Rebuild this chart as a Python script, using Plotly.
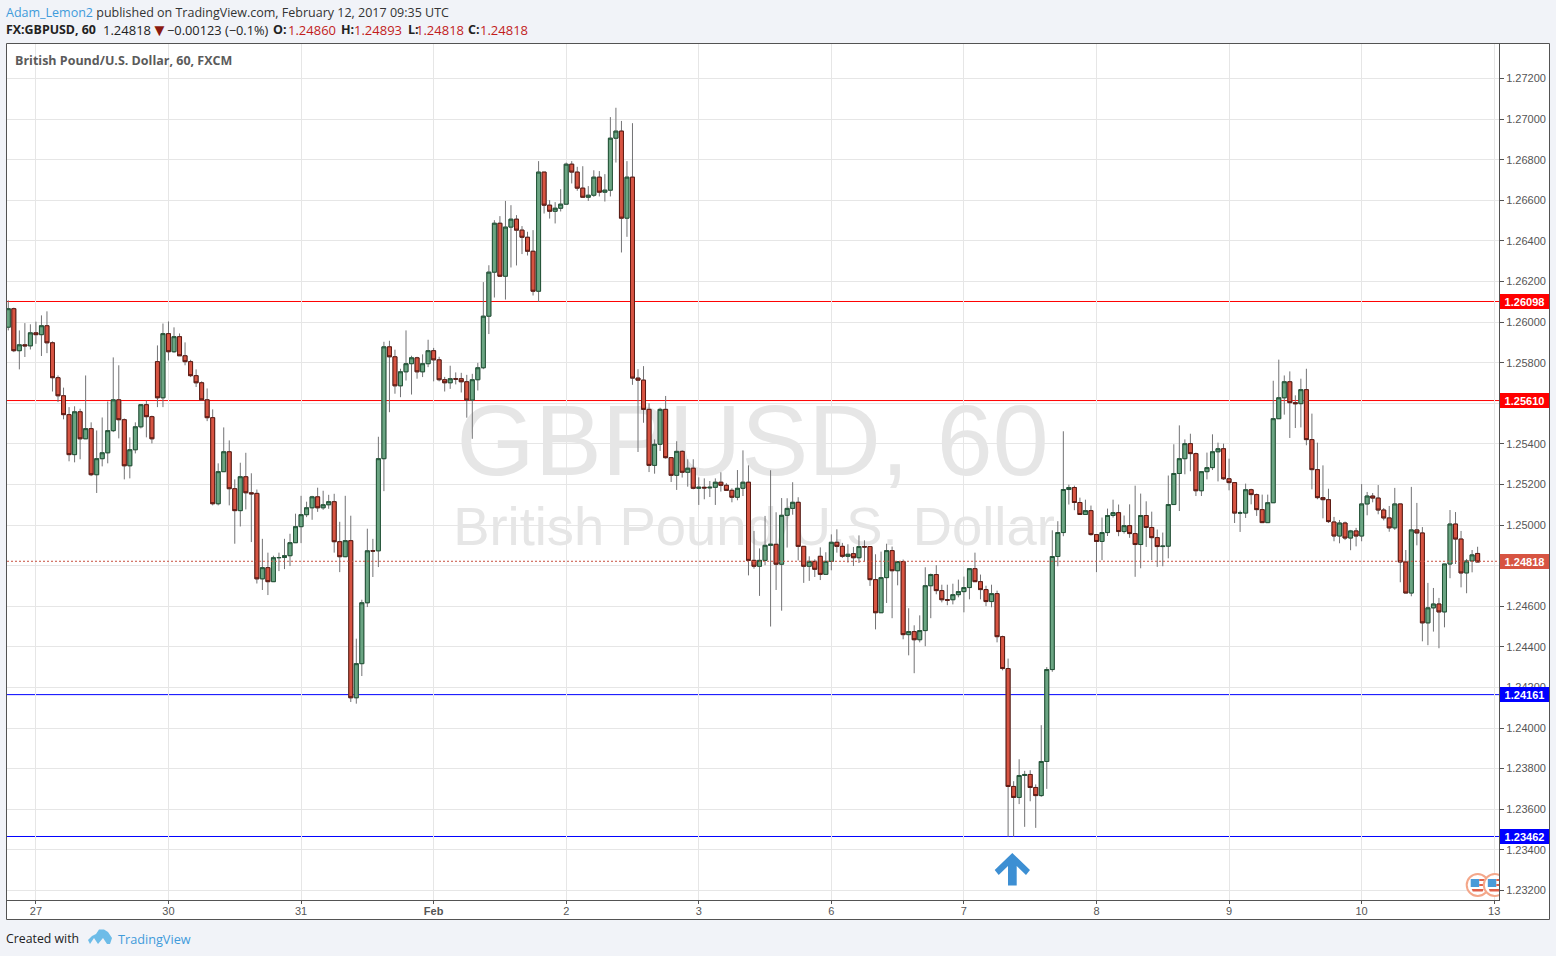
import plotly.graph_objects as go

# hourly FX:GBPUSD candles
OPEN = [
    1.25975,1.26066,1.25859,1.25888,1.25883,1.25947,1.25938,1.25982,1.25898,1.25726,
    1.25637,1.25544,1.25347,1.25558,1.25425,1.25475,1.25248,1.25327,1.25356,1.25465,
    1.25617,1.25519,1.25292,1.25371,1.25484,1.25593,1.25534,1.25805,1.25627,1.25943,
    1.25854,1.25928,1.25834,1.25805,1.25736,1.25701,1.25617,1.25529,1.25105,1.25263,
    1.25361,1.25179,1.25071,1.25238,1.25159,1.25156,1.24735,1.24790,1.24721,1.24839,
    1.24840,1.24849,1.24913,1.24992,1.25051,1.25085,1.25139,1.25085,1.25100,1.25115,
    1.24918,1.24844,1.24923,1.24149,1.24317,1.24617,1.24873,1.24873,1.25327,1.25878,
    1.25829,1.25686,1.25755,1.25795,1.25824,1.25755,1.25795,1.25859,1.25814,1.25716,
    1.25701,1.25721,1.25721,1.25706,1.25616,1.25716,1.25775,1.26029,1.26246,1.26487,
    1.26226,1.26468,1.26507,1.26453,1.26418,1.26349,1.26152,1.26739,1.26576,1.26546,
    1.26561,1.26581,1.26778,1.26739,1.26660,1.26615,1.26625,1.26714,1.26640,1.26650,
    1.26906,1.26941,1.26512,1.26714,1.25724,1.25714,1.25570,1.25294,1.25398,1.25570,
    1.25332,1.25245,1.25363,1.25260,1.25280,1.25181,1.25186,1.25183,1.25186,1.25211,
    1.25196,1.25171,1.25137,1.25181,1.25211,1.24826,1.24797,1.24826,1.24900,1.24905,
    1.24807,1.25048,1.25082,1.25112,1.24895,1.24797,1.24821,1.24846,1.24757,1.24821,
    1.24915,1.24895,1.24846,1.24859,1.24839,1.24894,1.24894,1.24731,1.24568,1.24741,
    1.24874,1.24775,1.24820,1.24460,1.24475,1.24435,1.24480,1.24701,1.24756,1.24677,
    1.24632,1.24632,1.24657,1.24672,1.24692,1.24785,1.24721,1.24682,1.24623,1.24662,
    1.24450,1.24293,1.23712,1.23658,1.23766,1.23771,1.23707,1.23667,1.23835,1.24288,
    1.24845,1.24963,1.25175,1.25185,1.25111,1.25052,1.25071,1.24953,1.24919,1.24963,
    1.25047,1.25061,1.24968,1.24997,1.24958,1.24904,1.25047,1.24988,1.24938,1.24894,
    1.24896,1.25101,1.25254,1.25327,1.25401,1.25352,1.25169,1.25263,1.25283,1.25361,
    1.25376,1.25228,1.25209,1.25059,1.25059,1.25174,1.25150,1.25076,1.25012,1.25110,
    1.25524,1.25627,1.25706,1.25603,1.25598,1.25667,1.25421,1.25273,1.25135,1.25125,
    1.25015,1.24946,1.25010,1.24936,1.24971,1.24946,1.25104,1.25143,1.25133,1.25074,
    1.25035,1.24986,1.25104,1.24818,1.24665,1.24976,1.24961,1.24518,1.24592,1.24611,
    1.24572,1.24808,1.25005,1.24931,1.24764,1.24823,1.24860,
]
HIGH = [
    1.26107,1.26071,1.25959,1.25995,1.25989,1.26002,1.26033,1.26053,1.25905,1.25737,
    1.25677,1.25581,1.25585,1.25573,1.25737,1.25506,1.25466,1.25530,1.25609,1.25826,
    1.25787,1.25525,1.25432,1.25506,1.25593,1.25614,1.25539,1.25885,1.25993,1.26003,
    1.25974,1.25944,1.25900,1.25814,1.25767,1.25708,1.25673,1.25570,1.25304,1.25481,
    1.25417,1.25225,1.25307,1.25356,1.25255,1.25175,1.24932,1.24864,1.24849,1.24864,
    1.24932,1.24957,1.25056,1.25144,1.25115,1.25144,1.25184,1.25169,1.25149,1.25154,
    1.25016,1.25144,1.25046,1.24440,1.24632,1.24982,1.24932,1.25435,1.25903,1.25908,
    1.25864,1.25770,1.25959,1.25834,1.25829,1.25841,1.25913,1.25873,1.25829,1.25730,
    1.25785,1.25752,1.25750,1.25740,1.25745,1.25799,1.26197,1.26280,1.26502,1.26522,
    1.26597,1.26576,1.26527,1.26473,1.26445,1.26453,1.26793,1.26739,1.26601,1.26591,
    1.26655,1.26786,1.26793,1.26765,1.26768,1.26670,1.26748,1.26744,1.26729,1.27010,
    1.27056,1.26991,1.26793,1.26980,1.25768,1.25783,1.25600,1.25422,1.25578,1.25636,
    1.25334,1.25413,1.25368,1.25324,1.25324,1.25235,1.25230,1.25217,1.25230,1.25260,
    1.25206,1.25181,1.25271,1.25368,1.25294,1.24971,1.24885,1.25045,1.25270,1.25063,
    1.25133,1.25132,1.25211,1.25137,1.24895,1.24846,1.24831,1.24890,1.24866,1.24954,
    1.24979,1.24912,1.24905,1.24892,1.24949,1.24925,1.24894,1.24856,1.24869,1.24908,
    1.24894,1.24820,1.24830,1.24590,1.24506,1.24555,1.24792,1.24761,1.24802,1.24706,
    1.24706,1.24711,1.24731,1.24746,1.24785,1.24864,1.24756,1.24701,1.24706,1.24677,
    1.24455,1.24342,1.23738,1.23846,1.23789,1.23792,1.23722,1.24014,1.24300,1.24974,
    1.25019,1.25462,1.25199,1.25194,1.25135,1.25125,1.25096,1.24956,1.25037,1.25081,
    1.25125,1.25101,1.25047,1.25102,1.25194,1.25155,1.25117,1.25066,1.24978,1.24963,
    1.25244,1.25398,1.25491,1.25422,1.25450,1.25357,1.25263,1.25357,1.25447,1.25406,
    1.25401,1.25327,1.25212,1.25071,1.25204,1.25179,1.25155,1.25150,1.25150,1.25711,
    1.25815,1.25737,1.25757,1.25639,1.25721,1.25770,1.25549,1.25406,1.25294,1.25179,
    1.25040,1.25025,1.25017,1.24976,1.24986,1.25202,1.25163,1.25158,1.25197,1.25084,
    1.25094,1.25183,1.25104,1.24877,1.25188,1.25109,1.24990,1.24715,1.24690,1.24641,
    1.24808,1.25074,1.25064,1.24971,1.24833,1.24877,1.24893,
]
LOW = [
    1.25959,1.25852,1.25767,1.25828,1.25865,1.25893,1.25833,1.25847,1.25658,1.25606,
    1.25521,1.25314,1.25309,1.25324,1.25425,1.25241,1.25158,1.25289,1.25304,1.25458,
    1.25427,1.25225,1.25230,1.25353,1.25476,1.25432,1.25402,1.25581,1.25581,1.25811,
    1.25849,1.25834,1.25787,1.25729,1.25680,1.25617,1.25512,1.25097,1.25097,1.25263,
    1.25097,1.24908,1.24993,1.25077,1.24916,1.24712,1.24680,1.24655,1.24721,1.24773,
    1.24783,1.24798,1.24913,1.24911,1.25039,1.25026,1.25065,1.25075,1.25080,1.24864,
    1.24768,1.24842,1.24128,1.24120,1.24256,1.24596,1.24744,1.24793,1.25167,1.25556,
    1.25647,1.25630,1.25712,1.25643,1.25721,1.25729,1.25778,1.25708,1.25708,1.25658,
    1.25671,1.25693,1.25653,1.25529,1.25425,1.25663,1.25768,1.25941,1.26121,1.26226,
    1.26111,1.26269,1.26279,1.26335,1.26328,1.26131,1.26100,1.26535,1.26510,1.26486,
    1.26545,1.26581,1.26683,1.26647,1.26615,1.26597,1.26617,1.26619,1.26594,1.26619,
    1.26786,1.26343,1.26420,1.25691,1.25360,1.25504,1.25261,1.25253,1.25365,1.25327,
    1.25212,1.25173,1.25234,1.25189,1.25176,1.25099,1.25127,1.25138,1.25099,1.25165,
    1.25171,1.25112,1.25122,1.25143,1.24752,1.24785,1.24651,1.24802,1.24500,1.24680,
    1.24578,1.24889,1.25051,1.24826,1.24715,1.24725,1.24744,1.24729,1.24754,1.24777,
    1.24864,1.24838,1.24815,1.24798,1.24813,1.24821,1.24700,1.24486,1.24568,1.24616,
    1.24541,1.24703,1.24437,1.24358,1.24270,1.24422,1.24403,1.24541,1.24659,1.24619,
    1.24605,1.24609,1.24644,1.24570,1.24634,1.24721,1.24634,1.24600,1.24595,1.24422,
    1.24284,1.23464,1.23464,1.23625,1.23513,1.23639,1.23508,1.23661,1.23700,1.24277,
    1.24797,1.24945,1.25101,1.25073,1.25052,1.25052,1.24948,1.24768,1.24827,1.24946,
    1.25037,1.24945,1.24958,1.24937,1.24745,1.24787,1.24892,1.24827,1.24794,1.24797,
    1.24836,1.25101,1.25069,1.25250,1.25265,1.25143,1.25143,1.25225,1.25271,1.25215,
    1.25222,1.25171,1.25010,1.24966,1.25035,1.25102,1.25045,1.25012,1.25012,1.25110,
    1.25524,1.25544,1.25429,1.25478,1.25481,1.25393,1.25176,1.25127,1.25033,1.25010,
    1.24920,1.24910,1.24926,1.24876,1.24895,1.24920,1.25048,1.25112,1.25053,1.25023,
    1.24967,1.24976,1.24718,1.24665,1.24649,1.24900,1.24427,1.24408,1.24475,1.24393,
    1.24496,1.24738,1.24808,1.24693,1.24664,1.24767,1.24818,
]
CLOSE = [
    1.26066,1.25859,1.25888,1.25883,1.25947,1.25938,1.25982,1.25898,1.25726,1.25637,
    1.25544,1.25347,1.25558,1.25425,1.25475,1.25248,1.25327,1.25356,1.25465,1.25617,
    1.25519,1.25292,1.25371,1.25484,1.25593,1.25534,1.25425,1.25627,1.25943,1.25854,
    1.25928,1.25834,1.25805,1.25736,1.25701,1.25617,1.25529,1.25105,1.25263,1.25361,
    1.25179,1.25071,1.25238,1.25159,1.25154,1.24735,1.24790,1.24721,1.24839,1.24840,
    1.24849,1.24913,1.24992,1.25051,1.25085,1.25139,1.25085,1.25100,1.25115,1.24918,
    1.24844,1.24923,1.24149,1.24317,1.24617,1.24873,1.24872,1.25327,1.25878,1.25829,
    1.25686,1.25755,1.25795,1.25824,1.25755,1.25795,1.25859,1.25814,1.25716,1.25701,
    1.25721,1.25719,1.25706,1.25616,1.25716,1.25775,1.26029,1.26246,1.26487,1.26226,
    1.26468,1.26507,1.26453,1.26418,1.26349,1.26152,1.26739,1.26576,1.26546,1.26561,
    1.26581,1.26778,1.26739,1.26660,1.26615,1.26625,1.26714,1.26640,1.26650,1.26906,
    1.26941,1.26512,1.26714,1.25724,1.25714,1.25570,1.25294,1.25398,1.25570,1.25332,
    1.25245,1.25363,1.25260,1.25280,1.25181,1.25186,1.25183,1.25186,1.25211,1.25196,
    1.25171,1.25137,1.25181,1.25211,1.24826,1.24797,1.24826,1.24900,1.24905,1.24807,
    1.25048,1.25082,1.25112,1.24895,1.24797,1.24821,1.24782,1.24757,1.24821,1.24915,
    1.24895,1.24846,1.24856,1.24839,1.24894,1.24892,1.24731,1.24568,1.24741,1.24874,
    1.24775,1.24820,1.24460,1.24475,1.24435,1.24480,1.24701,1.24756,1.24677,1.24632,
    1.24630,1.24657,1.24672,1.24692,1.24785,1.24721,1.24682,1.24623,1.24662,1.24450,
    1.24293,1.23712,1.23658,1.23766,1.23771,1.23707,1.23667,1.23835,1.24288,1.24845,
    1.24963,1.25175,1.25185,1.25111,1.25052,1.25071,1.24953,1.24919,1.24963,1.25047,
    1.25061,1.24968,1.24997,1.24958,1.24904,1.25047,1.24988,1.24938,1.24894,1.24896,
    1.25101,1.25254,1.25327,1.25401,1.25352,1.25169,1.25263,1.25283,1.25361,1.25376,
    1.25228,1.25209,1.25059,1.25060,1.25174,1.25150,1.25076,1.25012,1.25110,1.25524,
    1.25627,1.25706,1.25603,1.25598,1.25667,1.25421,1.25273,1.25135,1.25125,1.25017,
    1.24946,1.25010,1.24936,1.24971,1.24946,1.25104,1.25143,1.25133,1.25074,1.25035,
    1.24986,1.25104,1.24818,1.24665,1.24976,1.24961,1.24518,1.24592,1.24611,1.24572,
    1.24808,1.25005,1.24931,1.24764,1.24823,1.24853,1.24818,
]
BARS = list(range(len(OPEN)))

# bar index of each day label on the time axis
DAY_TICKS = [5, 29, 53, 77, 101, 125, 149, 173, 197, 221, 245, 269]
DAY_LABELS = ["27", "30", "31", "<b>Feb</b>", "2", "3", "6", "7", "8", "9", "10", "13"]

# horizontal levels drawn by the author
RED_LEVELS = [1.26098, 1.25610]
BLUE_LEVELS = [1.24161, 1.23462]
LAST_PRICE = 1.24818

# plot area in page pixels
L, R, T, B = 7, 1499, 44, 900
X_RANGE = [-0.235, 269.87]
Y_RANGE = [1.2315255, 1.2737015]
# the level lines sit a little above their quoted price, and this keeps them on a pixel row
LEVEL_NUDGE = 0.0000345


def px_x(px):
    return (px - L) / (R - L)


def px_y(py):
    return (B - py) / (B - T)


def data_x(px):
    return X_RANGE[0] + px_x(px) * (X_RANGE[1] - X_RANGE[0])


def data_y(py):
    return Y_RANGE[0] + px_y(py) * (Y_RANGE[1] - Y_RANGE[0])


def poly(points, color):
    # filled polygon given in page pixels, clipped to the plot area
    path = "M" + "L".join(f"{data_x(x)},{data_y(y)}" for x, y in points) + "Z"
    return dict(type="path", xref="x", yref="y", path=path, fillcolor=color, line=dict(width=0))


def page_poly(points, color):
    path = "M" + "L".join(f"{px_x(x)},{px_y(y)}" for x, y in points) + "Z"
    return dict(type="path", xref="paper", yref="paper", path=path, fillcolor=color, line=dict(width=0))


fig = go.Figure()

# wicks first, in grey, then the bodies with their dark outlines on top
fig.add_trace(go.Candlestick(
    x=BARS, open=OPEN, high=HIGH, low=LOW, close=CLOSE,
    increasing=dict(line=dict(color="#737375", width=1), fillcolor="#737375"),
    decreasing=dict(line=dict(color="#737375", width=1), fillcolor="#737375"),
    whiskerwidth=0, hoverinfo="skip", showlegend=False,
))
fig.add_trace(go.Candlestick(
    x=BARS, open=OPEN, close=CLOSE,
    high=[max(o, c) for o, c in zip(OPEN, CLOSE)],
    low=[min(o, c) for o, c in zip(OPEN, CLOSE)],
    increasing=dict(line=dict(color="#225437", width=1), fillcolor="#6ba583"),
    decreasing=dict(line=dict(color="#5b1a13", width=1), fillcolor="#d75442"),
    whiskerwidth=0, hoverinfo="skip", showlegend=False,
))

shapes = []

# white chart panel on the grey page
shapes.append(dict(type="rect", xref="paper", yref="paper", layer="below",
                   x0=px_x(6.5), x1=px_x(1549.5), y0=px_y(919.5), y1=px_y(43.5),
                   fillcolor="white", line=dict(color="#535353", width=1)))

# watermarks sit under the candles
shapes.append(dict(type="rect", xref="paper", yref="paper", layer="below",
                   x0=px_x(300), x1=px_x(1205), y0=px_y(490), y1=px_y(370),
                   line=dict(width=0), fillcolor="rgba(0,0,0,0)",
                   label=dict(text="GBPUSD, 60", textposition="middle center",
                              font=dict(family="Liberation Sans", size=100.5, color="#e6e6e6"))))
shapes.append(dict(type="rect", xref="paper", yref="paper", layer="below",
                   x0=px_x(298), x1=px_x(1210), y0=px_y(554), y1=px_y(489),
                   line=dict(width=0), fillcolor="rgba(0,0,0,0)",
                   label=dict(text="British Pound/U.S. Dollar", textposition="middle center",
                              font=dict(family="Liberation Sans", size=54.4, color="#e6e6e6"))))

for level in RED_LEVELS:
    shapes.append(dict(type="line", xref="x", yref="y", layer="below", x0=X_RANGE[0], x1=X_RANGE[1],
                       y0=level + LEVEL_NUDGE, y1=level + LEVEL_NUDGE, line=dict(color="#ff0000", width=1)))
for level in BLUE_LEVELS:
    shapes.append(dict(type="line", xref="x", yref="y", layer="below", x0=X_RANGE[0], x1=X_RANGE[1],
                       y0=level + LEVEL_NUDGE, y1=level + LEVEL_NUDGE, line=dict(color="#0000ff", width=1)))
shapes.append(dict(type="line", xref="x", yref="y", x0=X_RANGE[0], x1=X_RANGE[1],
                   y0=LAST_PRICE + LEVEL_NUDGE, y1=LAST_PRICE + LEVEL_NUDGE,
                   line=dict(color="#c8503f", width=1, dash="2px,2px")))

# buy arrow
shapes.append(poly([(1012.3, 853), (1030, 870), (1026, 875), (1016.7, 866), (1016.7, 885.5),
                    (1008, 885.5), (1008, 866), (998.7, 875), (994.7, 870)], "#3d8fd3"))

# event markers with the little US flag, the second is cut by the price axis
for cx in [1477.7, 1494.8]:
    shapes.append(dict(type="circle", xref="x", yref="y", x0=data_x(cx - 11), x1=data_x(cx + 11),
                       y0=data_y(896), y1=data_y(874), fillcolor="white",
                       line=dict(color="#f4a78a", width=2)))
    shapes.append(poly([(cx - 7, 879), (cx + 1.5, 879), (cx + 1.5, 887), (cx - 7, 887)], "#4a9ad8"))
    shapes.append(poly([(cx + 1.5, 879), (cx + 7, 879), (cx + 7, 881), (cx + 1.5, 881)], "#e0604a"))
    shapes.append(poly([(cx + 1.5, 884), (cx + 8, 884), (cx + 8, 886), (cx + 1.5, 886)], "#e0604a"))
    shapes.append(poly([(cx - 6, 889), (cx + 6, 889), (cx + 5, 891.5), (cx - 5, 891.5)], "#e0604a"))

# TradingView cloud logo
shapes.append(page_poly([(88, 940), (92, 936), (96, 934), (99, 929.5), (104, 929.5), (108, 932), (112, 938),
                         (110, 944), (107, 944), (103, 938), (98, 944), (94, 938), (90, 944)], "#6dbce8"))

annotations = []


def text(px, py, html, size=12.5, color="#333333", family="Open Sans"):
    annotations.append(dict(xref="paper", yref="paper", x=px_x(px), y=px_y(py), text=html, showarrow=False,
                            xanchor="left", yanchor="middle", align="left", borderpad=0, borderwidth=0,
                            font=dict(family=family, size=size, color=color)))


RED_TXT = "#c21c1c"
INK = "#222222"
text(6, 12, '<span style="color:#3f9bdb">Adam_Lemon2</span> published on TradingView.com, February 12, 2017 09:35 UTC')
text(6, 30, "<b>FX:GBPUSD, 60</b>", color=INK, size=12.4)
text(102.5, 30, "1.24818", color=INK, size=13)
text(150.5, 30, "▼", color="#8b1a10", size=17)
text(167, 30, "−0.00123 (−0.1%)", color=INK, size=12.8)
for label, lx, value, vx in [("O:", 273, "1.24860", 287.5), ("H:", 340.5, "1.24893", 353.5),
                             ("L:", 407.5, "1.24818", 415.5), ("C:", 468, "1.24818", 479.5)]:
    text(lx, 30, f"<b>{label}</b>", color=INK)
    text(vx, 30, value, color=RED_TXT, size=13)
text(15, 60.5, "<b>British Pound/U.S. Dollar, 60, FXCM</b>", color="#5b5b5b")
text(6, 938, "Created with", color="#222222", size=12.3)
text(118, 938.5, "TradingView", color="#3f9bdb", size=12.7)

# coloured price tags on the axis
for value, color in [(1.26098, "#ff0000"), (1.25610, "#ff0000"), (1.24161, "#0000ff"),
                     (1.23462, "#0000ff"), (LAST_PRICE, "#d75442")]:
    annotations.append(dict(xref="paper", yref="y", x=px_x(1500), y=value + LEVEL_NUDGE, xanchor="left",
                            yanchor="middle", text=f"<b>{value:.5f}</b>", showarrow=False, width=49, height=15,
                            bgcolor=color, borderpad=0, borderwidth=0,
                            font=dict(family="Liberation Sans", size=11, color="white")))

fig.update_layout(
    width=1556, height=956,
    margin=dict(l=L, r=1556 - R, t=T, b=956 - B, autoexpand=False),
    paper_bgcolor="#f1f3f8", plot_bgcolor="rgba(0,0,0,0)",
    boxgap=0.28, boxgroupgap=0, showlegend=False, dragmode=False,
    shapes=shapes, annotations=annotations,
    xaxis=dict(
        range=X_RANGE, rangeslider=dict(visible=False), tickmode="array",
        tickvals=DAY_TICKS, ticktext=DAY_LABELS, ticks="outside", ticklen=3, tickcolor="#535353",
        ticklabelstandoff=-2,
        showgrid=True, gridcolor="#e6e6e6", gridwidth=1, zeroline=False,
        tickfont=dict(family="Liberation Sans", size=11, color="#555555"),
        showline=True, linecolor="#535353", linewidth=1,
    ),
    yaxis=dict(
        range=Y_RANGE, side="right", tickmode="linear", tick0=1.232, dtick=0.002, tickformat=".5f",
        ticks="outside", ticklen=4, tickcolor="#535353",
        showgrid=True, gridcolor="#e6e6e6", gridwidth=1, zeroline=False,
        tickfont=dict(family="Liberation Sans", size=11, color="#555555"),
        showline=True, linecolor="#535353", linewidth=1,
    ),
)

fig.write_html("out.html", config=dict(displayModeBar=False),
               post_script="document.body.style.margin='0';")
